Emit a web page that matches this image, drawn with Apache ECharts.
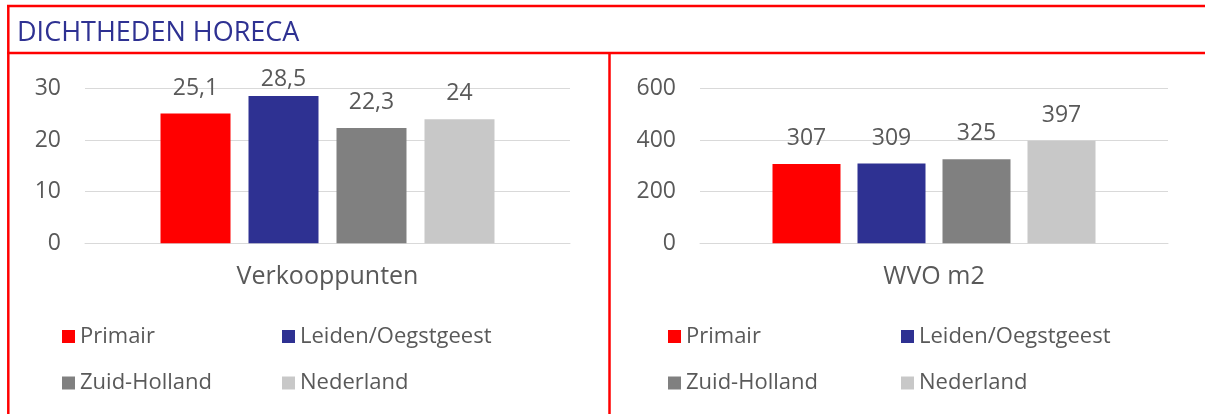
<!DOCTYPE html>
<html>
<head>
<meta charset="utf-8">
<script src="https://cdn.jsdelivr.net/npm/echarts@6/dist/echarts.min.js"></script>
<style>
html,body{margin:0;padding:0;background:#fff;}
#c{width:1205px;height:414px;}
</style>
</head>
<body>
<div id="c"></div>
<script>
const title = 'DICHTHEDEN HORECA';
const seriesNames = ['Primair', 'Leiden/Oegstgeest', 'Zuid-Holland', 'Nederland'];
const leftCategory = ['Verkooppunten'];
const rightCategory = ['WVO m2'];
const leftValues = [25.1, 28.5, 22.3, 24];
const rightValues = [307, 309, 325, 397];
const leftTicks = {min: 0, max: 30, interval: 10};
const rightTicks = {min: 0, max: 600, interval: 200};

const colors = ['#FF0000', '#2E3192', '#808080', '#C8C8C8'];
const textColor = '#595959';
const FONT = '"Open Sans", "Liberation Sans", sans-serif';
const chart = echarts.init(document.getElementById('c'), null, {renderer: 'canvas'});

function fmt(v) { return String(v).replace('.', ','); }

function yAxis(gridIndex, t) {
  return {
    type: 'value', gridIndex: gridIndex, min: t.min, max: t.max, interval: t.interval,
    axisLine: {show: false}, axisTick: {show: false},
    axisLabel: {color: textColor, fontSize: 23, fontFamily: FONT, margin: 24},
    splitLine: {lineStyle: {color: '#D9D9D9', width: 1}}
  };
}
function xAxis(gridIndex, cats) {
  return {
    type: 'category', gridIndex: gridIndex, data: cats,
    axisLine: {show: true, lineStyle: {color: '#D9D9D9', width: 1}},
    axisTick: {show: false},
    axisLabel: {color: textColor, fontSize: 25, fontFamily: FONT, margin: 21}
  };
}

const series = [];
seriesNames.forEach(function (name, i) {
  series.push({
    name: name, type: 'bar', xAxisIndex: 0, yAxisIndex: 0,
    data: [leftValues[i]], barWidth: 70, barGap: '25.7%',
    itemStyle: {color: colors[i]},
    label: {show: true, position: 'top', distance: (leftValues[i] > 27 ? 5 : 14),
      color: textColor, fontSize: 23, fontFamily: FONT,
      formatter: function (p) { return fmt(p.value); }}
  });
  series.push({
    name: name, type: 'bar', xAxisIndex: 1, yAxisIndex: 1,
    data: [rightValues[i]], barWidth: 68, barGap: '25%',
    itemStyle: {color: colors[i]},
    label: {show: true, position: 'top', distance: 14,
      color: textColor, fontSize: 23, fontFamily: FONT,
      formatter: function (p) { return fmt(p.value); }}
  });
});

const legendPos = [
  [57, 320.5], [277, 320.5], [57, 367], [277, 367]
];
const legendPosR = [
  [663, 320.5], [896, 320.5], [663, 367], [896, 367]
];
const legends = [];
seriesNames.forEach(function (name, i) {
  [legendPos, legendPosR].forEach(function (pos) {
    legends.push({
      data: [name], left: pos[i][0], top: pos[i][1],
      icon: 'rect', itemWidth: 13, itemHeight: 13, itemGap: 5,
      textStyle: {color: textColor, fontSize: 22, fontFamily: FONT},
      selectedMode: false
    });
  });
});

const red = '#FF0000';
chart.setOption({
  animation: false,
  color: colors,
  title: {
    text: title, left: 12, top: 15,
    textStyle: {color: '#2E3192', fontSize: 27, fontWeight: 'normal', fontFamily: FONT}
  },
  legend: legends,
  grid: [
    {left: 85, right: 635, top: 88.3, bottom: 170.7},
    {left: 700, right: 37, top: 88.3, bottom: 170.7}
  ],
  xAxis: [xAxis(0, leftCategory), xAxis(1, rightCategory)],
  yAxis: [yAxis(0, leftTicks), yAxis(1, rightTicks)],
  series: series,
  graphic: [
    {type: 'line', shape: {x1: 7, y1: 6, x2: 1205, y2: 6}, style: {stroke: red, lineWidth: 2.5}},
    {type: 'line', shape: {x1: 7, y1: 53, x2: 1205, y2: 53}, style: {stroke: red, lineWidth: 2.5}},
    {type: 'line', shape: {x1: 8.3, y1: 5, x2: 8.3, y2: 414}, style: {stroke: red, lineWidth: 2.5}},
    {type: 'line', shape: {x1: 609.5, y1: 53, x2: 609.5, y2: 414}, style: {stroke: red, lineWidth: 2.5}}
  ]
});
</script>
</body>
</html>
